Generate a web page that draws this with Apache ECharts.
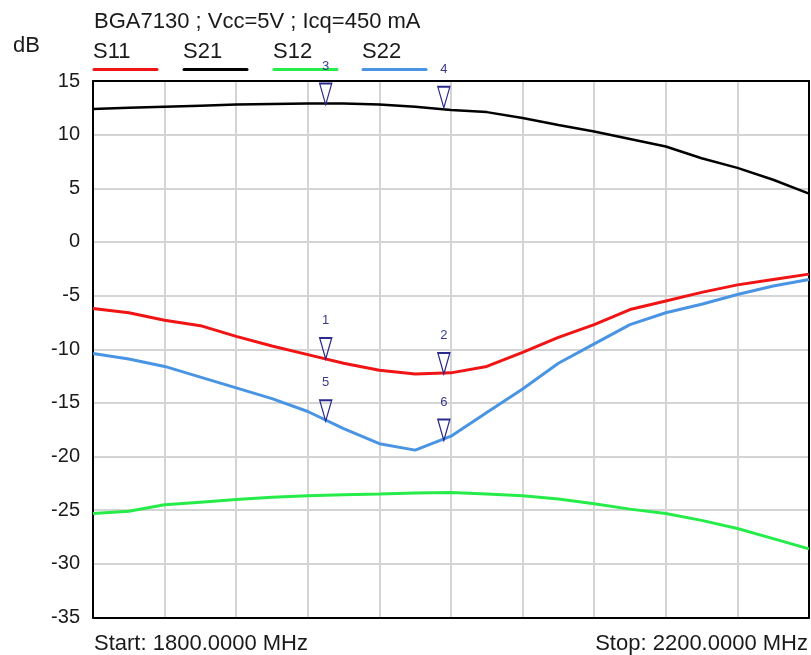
<!DOCTYPE html>
<html>
<head>
<meta charset="utf-8">
<script src="https://cdn.jsdelivr.net/npm/echarts@6/dist/echarts.min.js"></script>
<style>
  html, body { margin: 0; padding: 0; background: #fff; }
  #chart { width: 811px; height: 655px; }
</style>
</head>
<body>
<div id="chart"></div>
<script>
// frequencies in MHz, one point every 20 MHz
const freqs = [1800, 1820, 1840, 1860, 1880, 1900, 1920, 1940, 1960, 1980, 2000,
  2020, 2040, 2060, 2080, 2100, 2120, 2140, 2160, 2180, 2200]

const s11 = [-6.2, -6.6, -7.3, -7.8, -8.8, -9.7, -10.5, -11.3, -11.95, -12.3, -12.2,
  -11.6, -10.3, -8.9, -7.7, -6.3, -5.5, -4.7, -4.0, -3.5, -3.0]
const s21 = [12.4, 12.5, 12.6, 12.7, 12.8, 12.85, 12.9, 12.9, 12.8, 12.6, 12.3,
  12.1, 11.55, 10.9, 10.3, 9.6, 8.9, 7.8, 6.9, 5.8, 4.5]
const s12 = [-25.3, -25.1, -24.5, -24.25, -24.0, -23.8, -23.65, -23.55, -23.5, -23.4, -23.35,
  -23.5, -23.65, -23.95, -24.4, -24.9, -25.3, -25.95, -26.7, -27.65, -28.6]
const s22 = [-10.4, -10.9, -11.6, -12.6, -13.6, -14.6, -15.8, -17.4, -18.8, -19.4, -18.1,
  -15.9, -13.7, -11.3, -9.5, -7.7, -6.6, -5.8, -4.9, -4.1, -3.5]

// markers: frequency and reading on each trace
const markerFreqs = [1930, 1996]
const s11Markers = [-10.9, -12.3]
const s21Markers = [12.8, 12.5]
const s22Markers = [-16.7, -18.5]

const yTicks = { min: -35, max: 15, interval: 5 }

const pairs = vals => freqs.map((f, i) => [f, vals[i]])

const markerStyle = (names, vals) => ({
  symbol: 'path://M0,0 L12,0 L6,21 Z',
  symbolSize: [12, 21],
  symbolOffset: [0, -10.5],
  silent: true,
  animation: false,
  itemStyle: { color: 'rgba(0,0,0,0)', borderColor: '#2b2b8c', borderWidth: 1.5 },
  label: {
    show: true, position: 'top', distance: 10,
    color: '#3a3a8e', fontSize: 13, fontFamily: 'Liberation Sans',
    formatter: p => p.name
  },
  data: markerFreqs.map((f, i) => ({ name: names[i], coord: [f, vals[i]] }))
})

const font = 'Liberation Sans'
const legendItems = [
  { name: 'S11', color: '#f01414', x: 93 },
  { name: 'S21', color: '#000000', x: 183 },
  { name: 'S12', color: '#26ec4a', x: 273 },
  { name: 'S22', color: '#4a94e4', x: 362 }
]

const frameLine = { show: true, onZero: false, lineStyle: { color: '#000', width: 2 } }
const noLabels = { axisTick: { show: false }, axisLabel: { show: false }, splitLine: { show: false } }

const txt = (text, x, y, align) => ({
  type: 'text', x: x, y: y,
  style: { text: text, font: '22px ' + font, fill: '#1a1a1a', align: align || 'left', verticalAlign: 'middle' }
})

const chart = echarts.init(document.getElementById('chart'))

chart.setOption({
  animation: false,
  grid: { left: 93, right: 2, top: 81, bottom: 37.5 },
  xAxis: [
    {
      type: 'value', min: 1800, max: 2200, interval: 40,
      axisLine: frameLine, axisTick: { show: false }, axisLabel: { show: false },
      splitLine: { lineStyle: { color: '#d4d4d4', width: 2 } }
    },
    { type: 'value', position: 'top', min: 1800, max: 2200, axisLine: frameLine, ...noLabels }
  ],
  yAxis: [
    {
      type: 'value', min: yTicks.min, max: yTicks.max, interval: yTicks.interval,
      axisLine: frameLine, axisTick: { show: false },
      axisLabel: { fontFamily: font, fontSize: 20, color: '#1a1a1a', margin: 13 },
      splitLine: { lineStyle: { color: '#d4d4d4', width: 2 } }
    },
    { type: 'value', position: 'right', min: yTicks.min, max: yTicks.max, axisLine: frameLine, ...noLabels }
  ],
  graphic: [
    txt('BGA7130 ; Vcc=5V ; Icq=450 mA', 94, 21.5),
    txt('dB', 13, 46),
    txt('Start: 1800.0000 MHz', 94, 644),
    txt('Stop: 2200.0000 MHz', 808, 644, 'right'),
    ...legendItems.map(it => txt(it.name, it.x, 51.5)),
    ...legendItems.map(it => ({
      type: 'line', shape: { x1: it.x + 1, y1: 69.5, x2: it.x + 64, y2: 69.5 },
      style: { stroke: it.color, lineWidth: 3, lineCap: 'round' }
    }))
  ],
  series: [
    {
      name: 'S12', type: 'line', data: pairs(s12), showSymbol: false,
      lineStyle: { color: '#26ec4a', width: 3 }
    },
    {
      name: 'S22', type: 'line', data: pairs(s22), showSymbol: false,
      lineStyle: { color: '#4a94e4', width: 3 },
      markPoint: markerStyle(['5', '6'], s22Markers)
    },
    {
      name: 'S11', type: 'line', data: pairs(s11), showSymbol: false,
      lineStyle: { color: '#f01414', width: 3 },
      markPoint: markerStyle(['1', '2'], s11Markers)
    },
    {
      name: 'S21', type: 'line', data: pairs(s21), showSymbol: false,
      lineStyle: { color: '#000000', width: 2.5 },
      markPoint: markerStyle(['3', '4'], s21Markers)
    }
  ]
})
</script>
</body>
</html>
